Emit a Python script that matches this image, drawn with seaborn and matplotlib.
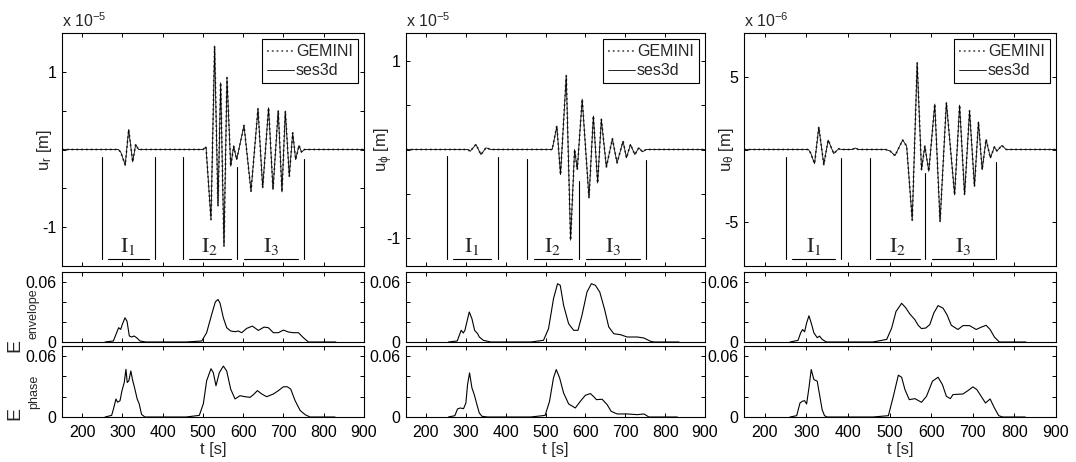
import matplotlib
matplotlib.use("Agg")
import matplotlib.pyplot as plt
import matplotlib.transforms as mtransforms
import seaborn as sns

# ---- seismograms, top panels ----
# u_r in units of 1e-5 m
T_R = [150, 290, 296, 307, 315.6, 325.5, 333, 340, 500, 507.6, 520, 529, 537.4, 544,
       552.3, 559.7, 569, 576.4, 583.8, 602, 619.4, 636.7, 648.4, 663, 674, 687, 696.3,
       704.6, 714.5, 722.9, 730.3, 738.5, 745, 752, 900]
U_R = [0, 0, -0.035, -0.2, 0.258, -0.16, 0.065, 0, 0, 0.034, -0.903, 1.333, -0.73, 0.86,
       -1.248, 0.925, -0.215, 0.043, -0.13, 0.31, -0.538, 0.525, -0.495, 0.538, -0.516,
       0.503, -0.546, 0.495, -0.344, 0.215, -0.13, 0.052, -0.034, 0, 0]

# u_phi in units of 1e-5 m
T_P = [150, 305, 311, 325.4, 338, 350.6, 363, 516.7, 528.4, 537.6, 552, 562.8, 572.9,
       579.6, 592, 609, 620, 630.7, 640, 652.6, 667.7, 679.4, 694.5, 703, 713, 724, 734,
       743.3, 752, 900]
U_P = [0, 0, -0.02, 0.057, -0.057, 0.019, 0, 0, 0.264, -0.283, 0.83, -1.02, 0.0, -0.226,
       0.566, -0.547, 0.377, -0.377, 0.34, -0.196, 0.121, -0.151, 0.094, -0.094, 0.057,
       -0.057, 0.019, -0.026, 0, 0]

# u_theta in units of 1e-6 m
T_T = [150, 305, 310, 319.6, 329.8, 341.8, 352.3, 365.7, 377.6, 385, 410, 417.5, 425, 490,
       501, 513, 531.4, 541, 554.4, 566.3, 576.7, 584.7, 594.2, 608.6, 621.3, 636.5, 656.3,
       668.3, 680.2, 692.2, 704, 713.6, 722.5, 732, 742.3, 751.9, 758, 770, 780, 900]
U_T = [0, 0, -0.23, -0.97, 1.55, -1.04, 0.65, -0.28, 0.05, 0, 0, 0.1, 0, 0,
       -0.1, -0.42, 0.65, 0.23, -4.85, 5.95, -1.39, 0.23, -1.5, 3.12, -4.97, 3.23, -3.12,
       3.05, -3.12, 2.66, -2.54, 1.9, -1.39, 0.69, -0.58, 0.18, -0.1, 0.28, 0, 0]

# ---- time windows I1, I2, I3 (boundaries) and their underlines ----
WIN_R = [250, 380, 450, 585, 750]
WIN_P = [252, 380, 453, 583, 751]
WIN_T = [250, 382, 453, 584, 756]
UNDER_R = [(265, 365), (466, 569), (603, 737)]
UNDER_P = [(269, 363), (470, 566), (602, 736)]
UNDER_T = [(266, 368), (468, 572), (602, 752)]
WIN_LABELS = [r"$\mathrm{I_1}$", r"$\mathrm{I_2}$", r"$\mathrm{I_3}$"]

# ---- envelope misfit ----
ENV_R_T = [257, 277.5, 284, 290.7, 295.7, 299.8, 306.4, 311.4, 317.2, 323, 328.8, 335.4,
           343.7, 358.6, 458, 497, 509.2, 521.7, 530.8, 537.4, 542.4, 550.7, 559, 568.9,
           579.7, 588, 596.3, 608.7, 622.8, 637.7, 651.8, 662.5, 674.9, 687.4, 699.8,
           712.2, 724.6, 737.1, 749.5, 762, 830]
ENV_R = [0, 0.001, 0.0076, 0.0143, 0.0126, 0.0176, 0.0242, 0.0209, 0.006, 0.005, 0.006,
         0.0043, 0.001, 0, 0, 0.001, 0.0093, 0.0275, 0.0401, 0.0425, 0.039, 0.0242, 0.0143,
         0.011, 0.0103, 0.011, 0.0093, 0.0136, 0.0159, 0.0116, 0.0149, 0.0143, 0.0093,
         0.0093, 0.0119, 0.01, 0.0093, 0.0093, 0.0043, 0, 0]
ENV_P_T = [256.5, 278.4, 288.4, 293.6, 297.8, 303.7, 308.7, 315.4, 322.1, 329.7, 333.9,
           344, 362.4, 463, 494.9, 507.5, 520, 530.2, 536.9, 545.3, 557.9, 570.5, 581.4,
           591.4, 604, 615, 625, 636, 647.7, 658.6, 671.2, 688, 704.8, 730, 746.7, 763.5,
           771.9, 834.8]
ENV_P = [0, 0.001, 0.0117, 0.009, 0.0117, 0.0217, 0.03, 0.0233, 0.0117, 0.0083, 0.005,
         0.0017, 0, 0, 0.0017, 0.0133, 0.0433, 0.0583, 0.0567, 0.0367, 0.0183, 0.0117,
         0.0117, 0.0267, 0.05, 0.0583, 0.0567, 0.05, 0.0333, 0.015, 0.0083, 0.0073, 0.005,
         0.005, 0.004, 0.0007, 0, 0]
ENV_T_T = [260.7, 279.8, 286.2, 290.9, 295.7, 300.5, 306.1, 311.6, 318, 326, 331.5, 337.9,
           348.2, 357.8, 459.7, 493.1, 505, 515.4, 528.9, 538.5, 548.8, 560.8, 568.7,
           576.7, 587.1, 596.6, 606.2, 616.5, 628.5, 638, 648.4, 664.3, 676.3, 692.2,
           708.1, 720.1, 732, 741.6, 752, 763.9, 827.6]
ENV_T = [0, 0.0016, 0.0092, 0.0125, 0.0102, 0.019, 0.0262, 0.019, 0.0092, 0.0043, 0.0059,
         0.0026, 0, 0, 0, 0.0026, 0.014, 0.0305, 0.0387, 0.0344, 0.0279, 0.0223, 0.0167,
         0.0134, 0.014, 0.0174, 0.0289, 0.0364, 0.0338, 0.0272, 0.0167, 0.0125, 0.0164,
         0.0164, 0.0125, 0.0148, 0.0167, 0.0125, 0.0049, 0, 0]

# ---- phase misfit ----
PH_R_T = [257, 273.3, 279, 284, 288, 294, 299, 304.6, 308.8, 312, 316, 321, 325, 331,
          336.7, 341.7, 347.5, 355.8, 458, 491, 501, 509.2, 520, 525.8, 532.4, 540.7,
          550.7, 559, 568.9, 579.7, 592, 604.6, 617, 625.3, 635.2, 646, 658.4, 675, 687.4,
          699.8, 709.7, 718, 728.8, 741.3, 753.7, 766, 828]
PH_R = [0, 0.0016, 0.0097, 0.0178, 0.0146, 0.016, 0.026, 0.034, 0.047, 0.034, 0.0357,
        0.0454, 0.037, 0.0275, 0.0178, 0.013, 0.0026, 0, 0, 0.0016, 0.013, 0.0357, 0.0476,
        0.0437, 0.0308, 0.0437, 0.0502, 0.0454, 0.0275, 0.0178, 0.021, 0.02, 0.0194, 0.022,
        0.026, 0.0227, 0.02, 0.0227, 0.026, 0.0298, 0.0298, 0.0275, 0.0162, 0.0065, 0.0023,
        0, 0]
PH_P_T = [256.5, 272.5, 279.2, 285.9, 294.3, 300.2, 304.4, 309.4, 315.4, 321.2, 327.9,
          333.8, 340.5, 354.8, 463, 499, 510, 520, 526.9, 535.3, 545.3, 557.9, 574.7,
          587.3, 599.9, 612.5, 622.6, 627.6, 641.9, 654.5, 664.6, 679.7, 704.9, 730, 746.8,
          759.4, 830.7]
PH_P = [0, 0.0013, 0.0079, 0.0089, 0.0082, 0.0138, 0.032, 0.0435, 0.0287, 0.0221, 0.0122,
        0.004, 0.0007, 0, 0, 0.0016, 0.0155, 0.0386, 0.0468, 0.0386, 0.0237, 0.0129, 0.0089,
        0.0155, 0.0214, 0.0231, 0.0194, 0.0171, 0.0175, 0.0122, 0.0056, 0.003, 0.003,
        0.0023, 0.003, 0, 0]
PH_T_T = [260.7, 276.6, 284.6, 290.2, 295.7, 300.5, 306.1, 311.6, 318, 326, 332.3, 337.9,
          343.5, 349.8, 357.8, 459.7, 497.1, 509, 521, 528.9, 536.9, 547.3, 560.8, 576.7,
          588.7, 603, 616.5, 626.9, 636.5, 646, 652.4, 676.3, 688.3, 700.3, 709.8, 720.1,
          730.5, 741.6, 752, 762.3, 771.9, 826]
PH_T = [0, 0.0013, 0.0138, 0.0155, 0.0161, 0.0128, 0.0287, 0.0468, 0.0369, 0.0353, 0.0204,
        0.0072, 0.0013, 0, 0, 0, 0.0013, 0.0204, 0.0412, 0.0392, 0.027, 0.0171, 0.0181,
        0.0145, 0.0204, 0.0353, 0.0392, 0.032, 0.0204, 0.0181, 0.0221, 0.0227, 0.026,
        0.0297, 0.027, 0.0204, 0.0138, 0.0178, 0.0089, 0.0013, 0, 0]

X_TICKS = [200, 300, 400, 500, 600, 700, 800, 900]

sns.set_theme(style="ticks")
plt.rcParams["font.family"] = ["Liberation Sans", "DejaVu Sans"]
plt.rcParams["mathtext.fontset"] = "stix"
plt.rcParams["mathtext.default"] = "regular"
plt.rcParams["axes.linewidth"] = 0.8
plt.rcParams["axes.edgecolor"] = "black"
for k in ("xtick", "ytick"):
    plt.rcParams[k + ".direction"] = "in"
    plt.rcParams[k + ".major.size"] = 3
    plt.rcParams[k + ".major.width"] = 0.7
    plt.rcParams[k + ".labelsize"] = 11.5
    plt.rcParams[k + ".color"] = "black"

W, H = 1076.0, 462.0
fig = plt.figure(figsize=(W / 100, H / 100), dpi=100)


def add_px_axes(left, top, width, height):
    return fig.add_axes([left / W, 1 - (top + height) / H, width / W, height / H])


panels = [
    dict(left=62, width=302, t=T_R, u=U_R, lim=1.5, yt=[-1, -0.5, 0, 0.5, 1],
         ytl=["-1", "", "", "", "1"], expo="-5", ylabel=r"u$_r$ [m]", labx=-0.027,
         win=WIN_R, under=UNDER_R, tops=[0.469, 0.469, 0.469, 0.426, 0.458],
         env=(ENV_R_T, ENV_R), ph=(PH_R_T, PH_R)),
    dict(left=406, width=299, t=T_P, u=U_P, lim=1.31, yt=[-1, -0.5, 0, 0.5, 1],
         ytl=["-1", "", "", "", "1"], expo="-5", ylabel=r"u$_\phi$ [m]", labx=-0.037,
         win=WIN_P, under=UNDER_P, tops=[0.474, 0.467, 0.46, 0.366, 0.456],
         env=(ENV_P_T, ENV_P), ph=(PH_P_T, PH_P)),
    dict(left=744, width=312, t=T_T, u=U_T, lim=8.0, yt=[-5, 0, 5],
         ytl=["-5", "", "5"], expo="-6", ylabel=r"u$_\theta$ [m]", labx=-0.026,
         win=WIN_T, under=UNDER_T, tops=[0.469, 0.464, 0.464, 0.397, 0.448],
         env=(ENV_T_T, ENV_T), ph=(PH_T_T, PH_T)),
]

for i, p in enumerate(panels):
    ax = add_px_axes(p["left"], 33, p["width"], 233)
    sns.lineplot(x=p["t"], y=p["u"], ax=ax, color="0.35", lw=1.3, linestyle=":",
                 label="GEMINI", sort=False, estimator=None)
    sns.lineplot(x=p["t"], y=p["u"], ax=ax, color="black", lw=0.6,
                 label="ses3d", sort=False, estimator=None)
    ax.set_xlim(150, 900)
    ax.set_ylim(-p["lim"], p["lim"])
    ax.set_xticks(X_TICKS)
    ax.set_xticklabels([])
    ax.set_yticks(p["yt"])
    ax.set_yticklabels(p["ytl"])
    ax.tick_params(top=True, right=True, pad=4)
    ax.set_ylabel(p["ylabel"], fontsize=12)
    ax.yaxis.set_label_coords(p["labx"], 0.5)
    ax.text(0, 1 + 6 / 233, "x 10$^{" + p["expo"] + "}$", transform=ax.transAxes,
            ha="left", va="baseline", fontsize=11.5)

    # window markers
    blend = mtransforms.blended_transform_factory(ax.transData, ax.transAxes)
    for tw, top in zip(p["win"], p["tops"]):
        ax.axvline(tw, ymin=0.029, ymax=top, color="black", lw=0.8)
    for (a, b), lab in zip(p["under"], WIN_LABELS):
        ax.plot([a, b], [0.029, 0.029], transform=blend, color="black", lw=0.8)
        ax.text((a + b) / 2, 0.058, lab, transform=blend, ha="center",
                va="baseline", fontsize=16)

    leg = ax.legend(loc="upper right", frameon=True, fancybox=False, edgecolor="black",
                    framealpha=1, borderaxespad=0.4, handlelength=1.7, handletextpad=0.1,
                    borderpad=0.3, labelspacing=0.25, fontsize=11.5)
    leg.get_frame().set_linewidth(0.8)

    # envelope and phase misfits
    for key, top, h in (("env", 272, 70), ("ph", 346, 71)):
        sub = add_px_axes(p["left"], top, p["width"], h)
        tt, vv = p[key]
        sns.lineplot(x=tt, y=vv, ax=sub, color="black", lw=0.8, sort=False,
                     estimator=None)
        sub.set_xlim(150, 900)
        sub.set_ylim(0, 0.07)
        sub.set_xticks(X_TICKS)
        sub.set_yticks([0, 0.02, 0.04, 0.06])
        sub.set_yticklabels(["0", "", "", "0.06"])
        sub.tick_params(top=True, right=True, pad=4)
        if key == "env":
            sub.set_xticklabels([])
        else:
            sub.set_xticklabels([str(v) for v in X_TICKS])
            sub.tick_params(axis="x", pad=6)
            sub.set_xlabel("t [s]", fontsize=12, labelpad=1)

# misfit labels of the first column
fig.text(15 / W, 1 - 346 / H, "E", rotation=90, ha="center", va="center", fontsize=14)
fig.text(34 / W, 1 - 314 / H, "envelope", rotation=90, ha="center", va="center",
         fontsize=9)
fig.text(15 / W, 1 - 413 / H, "E", rotation=90, ha="center", va="center", fontsize=14)
fig.text(34 / W, 1 - 392 / H, "phase", rotation=90, ha="center", va="center",
         fontsize=9)

fig.savefig("out.png", dpi=100)
